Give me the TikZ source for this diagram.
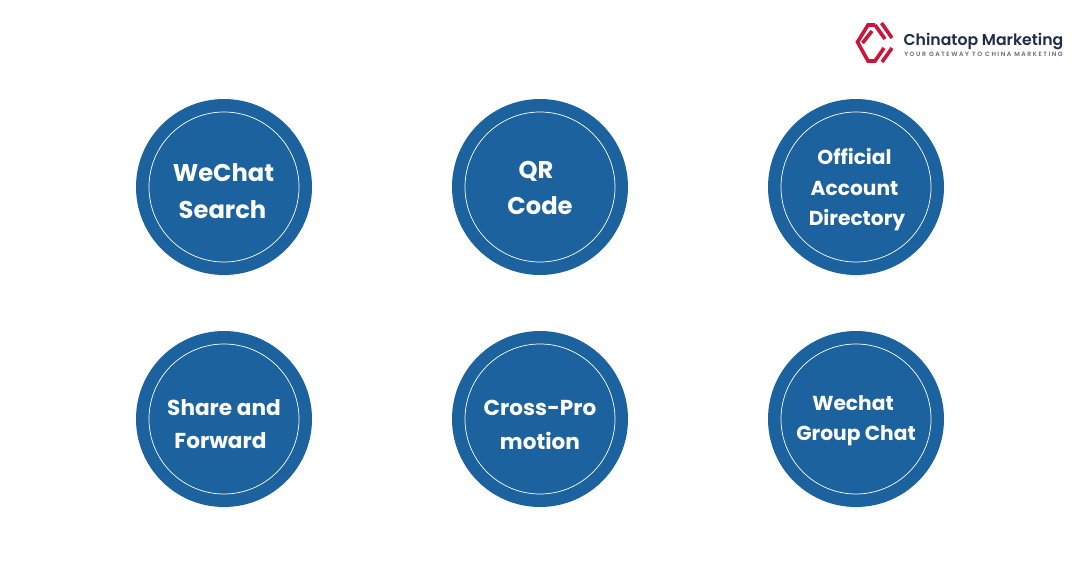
\documentclass[tikz,border=0pt]{standalone}
\usepackage{fontspec}
\setmainfont{Poppins}
\newfontfamily\labelfont{Poppins Bold}
\newfontfamily\logofont{Poppins SemiBold}
\definecolor{disc}{HTML}{1C629E}
\definecolor{logored}{HTML}{C8173A}
\definecolor{logonavy}{HTML}{1E2B4A}
\tikzset{
  x=1pt,y=-1pt,
  outerdisc/.style={circle,fill=disc,minimum size=176pt,inner sep=0pt},
  innerring/.style={circle,draw=white,line width=0.7pt,minimum size=150pt,inner sep=0pt},
  biglabel/.style={text=white,font=\labelfont\fontsize{24.2}{24.2}\selectfont,inner sep=0pt},
  midlabel/.style={text=white,font=\labelfont\fontsize{21.6}{21.6}\selectfont,inner sep=0pt},
  smalllabel/.style={text=white,font=\labelfont\fontsize{20.2}{20.2}\selectfont,inner sep=0pt},
  logostroke/.style={draw=logored,line width=3.6pt,line join=miter,line cap=butt},
}
\begin{document}
\begin{tikzpicture}
\useasboundingbox[fill=white] (0,0) rectangle (1080,565);
% discs
\foreach \n/\cx/\cy in {a/224/187,b/540/187,c/856/187,d/224/419,e/540/419,f/856/419}{
  \node[outerdisc] (disc\n) at (\cx,\cy) {};
  \node[innerring] (ring\n) at (\cx,\cy) {};
}
% labels
\node[biglabel] (t1) at (223.5,172.5) {WeChat};
\node[biglabel] (t2) at (222.5,209.5) {Search};
\node[biglabel] (t3) at (536,171) {QR};
\node[biglabel] (t4) at (540,205.5) {Code};
\node[smalllabel] (t5) at (854.5,156.5) {Official};
\node[smalllabel] (t6) at (854.5,188) {Account};
\node[smalllabel] (t7) at (857,220) {Directory};
\node[midlabel] (t8) at (224,407.5) {Share and};
\node[midlabel] (t9) at (220.5,441) {Forward};
\node[midlabel] (t10) at (540,407.5) {Cross-Pro};
\node[midlabel] (t11) at (540,440.5) {motion};
\node[smalllabel] (t12) at (853,403.5) {Wechat};
\node[smalllabel] (t13) at (856,436) {Group Chat};
% logo mark
\draw[logostroke] (875,25) -- (868,25) -- (857.5,42) -- (868,61) -- (875,61) -- (884,48);
\draw[logostroke] (875,25) -- (885,39);
\draw[logostroke] (862.5,43) -- (872,31);
\draw[logostroke] (881.5,23) -- (892,38);
\draw[logostroke] (882,62) -- (892,48);
% logo text
\node[inner sep=0pt,text=logonavy,font=\logofont\fontsize{15.7}{15.7}\selectfont] (logo1) at (983.5,41.5) {Chinatop Marketing};
\node[inner sep=0pt,text=logonavy!70,font=\logofont\fontsize{6.2}{6.2}\selectfont] (logo2) at (983.5,54) {\addfontfeature{LetterSpace=25}YOUR GATEWAY TO CHINA MARKETING};
\end{tikzpicture}
\end{document}
